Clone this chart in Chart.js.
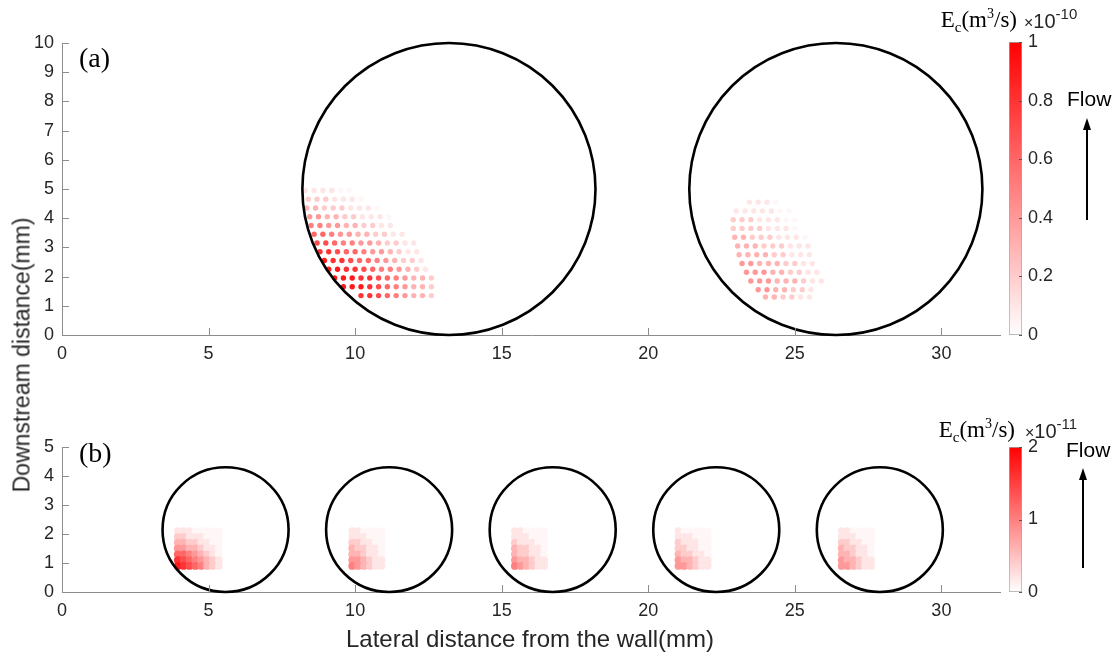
<!DOCTYPE html>
<html>
<head>
<meta charset="utf-8">
<script src="https://cdn.jsdelivr.net/npm/chart.js@4.4.1/dist/chart.umd.min.js"></script>
<style>
  body { margin: 0; background: #fff; }
  #page { position: relative; width: 1120px; height: 656px; overflow: hidden; font-family: "Liberation Sans", Arial, sans-serif; color: #262626; }
  canvas { position: absolute; }
  .txt { position: absolute; white-space: nowrap; }
  .serif { font-family: "Liberation Serif", "Times New Roman", serif; color: #000; }
  .shaft { position: absolute; width: 2px; background: #000; }
  .head { position: absolute; width: 0; height: 0; border-left: 4px solid transparent; border-right: 4px solid transparent; border-bottom: 12px solid #000; }
</style>
</head>
<body>
<div id="page">
  <canvas id="chartA" width="1010" height="372" style="left:0;top:0"></canvas>
  <canvas id="barA" width="70" height="372" style="left:990px;top:0"></canvas>
  <canvas id="chartB" width="1010" height="256" style="left:0;top:400px"></canvas>
  <canvas id="barB" width="70" height="256" style="left:990px;top:400px"></canvas>

  <div class="txt serif" style="left:79px;top:44px;font-size:28px;line-height:28px">(a)</div>
  <div class="txt serif" style="left:79px;top:439px;font-size:28px;line-height:28px">(b)</div>

  <div class="txt serif" style="right:103px;top:2px;font-size:23px;line-height:23px">E<sub style="font-size:15px">c</sub>(m<sup style="font-size:14px">3</sup>/s)</div>
  <div class="txt" style="left:1024px;top:11px;font-size:20px;line-height:20px"><span style="font-size:16px">&times;</span>10<span style="position:relative;top:-9px;font-size:15px">-10</span></div>
  <div class="txt" style="left:1067px;top:88px;font-size:21px;line-height:21px;color:#000">Flow</div>
  <div class="head" style="left:1083px;top:118px"></div>
  <div class="shaft" style="left:1086px;top:128px;height:92px"></div>

  <div class="txt serif" style="right:105px;top:412px;font-size:23px;line-height:23px">E<sub style="font-size:15px">c</sub>(m<sup style="font-size:14px">3</sup>/s)</div>
  <div class="txt" style="left:1025px;top:421px;font-size:20px;line-height:20px"><span style="font-size:16px">&times;</span>10<span style="position:relative;top:-9px;font-size:15px">-11</span></div>
  <div class="txt" style="left:1066px;top:439px;font-size:21px;line-height:21px;color:#000">Flow</div>
  <div class="head" style="left:1079px;top:468px"></div>
  <div class="shaft" style="left:1082px;top:478px;height:90px"></div>

  <div class="txt" style="left:22px;top:355px;font-size:23px;transform:translate(-50%,-50%) rotate(-90deg)">Downstream distance(mm)</div>
  <div class="txt" style="left:530px;top:639px;font-size:24px;transform:translate(-50%,-50%)">Lateral distance from the wall(mm)</div>
</div>

<script>
// panel (a): rows of dots, one digit per dot = Ec in tenths of 1e-10 m3/s
var dotStepA = 0.3;
var rowsY_a1 = [4.95, 4.65, 4.35, 4.05, 3.75, 3.45, 3.15, 2.85, 2.55, 2.25, 1.95, 1.65, 1.35];
var rowsX_a1 = [8.30, 8.40, 8.35, 8.45, 8.50, 8.60, 8.70, 8.80, 8.95, 9.10, 9.30, 9.60, 10.20];
var rowsE_a1 = ["111100", "2221110", "332221110", "4433221110", "5544332211", "66544332211",
                "776554432211", "887665443211", "988766543221", "998876554321", "999887654332",
                "99987654332", "887654332"];

var rowsY_a2 = [4.55, 4.25, 3.95, 3.65, 3.35, 3.05, 2.75, 2.45, 2.15, 1.85, 1.55, 1.30];
var rowsX_a2 = [23.45, 23.00, 22.90, 22.90, 22.95, 23.05, 23.10, 23.20, 23.35, 23.50, 23.75, 24.00];
var rowsE_a2 = ["1110", "1111100", "22211100", "22221110", "332221110", "333222111", "333322111",
                "443332211", "444332211", "444333211", "4433221", "332211"];

var ringX_a = [13.2, 26.4];
var ringY_a = [5, 5];
var ringR_a = [5, 5];

// panel (b): five small cylinders, patches in tenths of 2e-11 m3/s
var dotStepB = 0.2;
var rowsY_b = [2.1, 1.9, 1.7, 1.5, 1.3, 1.1, 0.9];
var patchX_b = [3.95, 9.90, 15.45, 21.03, 26.60];
var patchE_b = [
  ["11100000", "22111000", "33221100", "44332110", "66543210", "87654321", "98765321"],
  ["110000", "111000", "221100", "322110", "332110", "443211", "543211"],
  ["110000", "111000", "211100", "322110", "322110", "433211", "543211"],
  ["100000", "111000", "211100", "221100", "322110", "433211", "443211"],
  ["110000", "111000", "221100", "322110", "332110", "433211", "443211"]
];
var ringX_b = [5.58, 11.16, 16.74, 22.32, 27.90];
var ringY_b = [2.15, 2.15, 2.15, 2.15, 2.15];
var ringR_b = [2.15, 2.15, 2.15, 2.15, 2.15];

var cbMaxA = 1, cbStepA = 0.2;
var cbMaxB = 2, cbStepB = 1;

Chart.defaults.font.family = "'Liberation Sans', Arial, sans-serif";
Chart.defaults.font.size = 18;
Chart.defaults.color = '#262626';

function redShade(f)
{
    var c = Math.round(255 * (1 - Math.min(1, f)));
    return 'rgb(255,' + c + ',' + c + ')';
}

function addRows(out, ys, x0s, digits, step)
{
    for (var i = 0; i < ys.length; i++)
    {
        var s = digits[i];
        for (var k = 0; k < s.length; k++)
        {
            var d = Math.max(0.3, +s[k]);
            out.data.push({x: x0s[i] + k * step, y: ys[i]});
            out.colors.push(redShade(d / 10));
        }
    }
    return out;
}

var ringPlugin = {
    id: 'rings',
    afterDatasetsDraw: function(chart, args, opts) {
        var ctx = chart.ctx, x = chart.scales.x, y = chart.scales.y;
        ctx.save();
        ctx.lineWidth = 2.6;
        ctx.strokeStyle = '#000';
        for (var i = 0; i < opts.cx.length; i++)
        {
            var px = x.getPixelForValue(opts.cx[i]);
            var py = y.getPixelForValue(opts.cy[i]);
            var rx = x.getPixelForValue(opts.cx[i] + opts.r[i]) - px;
            var ry = py - y.getPixelForValue(opts.cy[i] + opts.r[i]);
            ctx.beginPath();
            ctx.ellipse(px, py, rx, ry, 0, 0, Math.PI * 2);
            ctx.stroke();
        }
        ctx.restore();
    }
};

// matlab style ticks pointing into the plot
var inTicks = {
    id: 'inTicks',
    afterDraw: function(chart) {
        var ctx = chart.ctx, a = chart.chartArea, x = chart.scales.x, y = chart.scales.y;
        ctx.save();
        ctx.strokeStyle = '#8c8c8c';
        ctx.lineWidth = 1;
        ctx.beginPath();
        x.ticks.forEach(function(t) {
            var p = Math.round(x.getPixelForValue(t.value)) + 0.5;
            ctx.moveTo(p, a.bottom); ctx.lineTo(p, a.bottom - 7);
        });
        y.ticks.forEach(function(t) {
            var p = Math.round(y.getPixelForValue(t.value)) + 0.5;
            ctx.moveTo(a.left, p); ctx.lineTo(a.left + 7, p);
        });
        ctx.stroke();
        ctx.restore();
    }
};

function makePanel(id, sets, ymax, rings, padTop, axisH)
{
    return new Chart(document.getElementById(id), {
        type: 'scatter',
        data: {
            datasets: sets.map(function(s) {
                return {
                    data: s.data,
                    backgroundColor: s.colors,
                    pointRadius: s.r,
                    pointBorderWidth: 0,
                    borderWidth: 0
                };
            })
        },
        options: {
            responsive: false,
            animation: false,
            events: [],
            layout: { padding: { top: padTop, right: 10, left: 0, bottom: 0 } },
            plugins: { legend: { display: false }, tooltip: { enabled: false }, rings: rings },
            scales: {
                x: {
                    type: 'linear', min: 0, max: 32,
                    ticks: { stepSize: 5, includeBounds: false, padding: 8, maxRotation: 0 },
                    grid: { display: false, drawTicks: false },
                    border: { color: '#8c8c8c', width: 1 },
                    afterFit: function(s) { s.height = axisH; }
                },
                y: {
                    type: 'linear', min: 0, max: ymax,
                    ticks: { stepSize: 1, includeBounds: false, padding: 8 },
                    grid: { display: false, drawTicks: false },
                    border: { color: '#8c8c8c', width: 1 },
                    afterFit: function(s) { s.width = 62; }
                }
            }
        },
        plugins: [ringPlugin, inTicks]
    });
}

function fillRed(c)
{
    var a = c.chart.chartArea;
    if (!a) return '#f00';
    var g = c.chart.ctx.createLinearGradient(0, a.bottom, 0, a.top);
    g.addColorStop(0, '#ffffff');
    g.addColorStop(1, '#ff0000');
    return g;
}

var barTicks = {
    id: 'barTicks',
    afterDraw: function(chart) {
        var ctx = chart.ctx, a = chart.chartArea, y = chart.scales.y;
        ctx.save();
        ctx.strokeStyle = '#555';
        ctx.lineWidth = 1;
        ctx.beginPath();
        y.ticks.forEach(function(t) {
            var p = Math.round(y.getPixelForValue(t.value)) + 0.5;
            ctx.moveTo(a.right, p); ctx.lineTo(a.right - 3, p);
        });
        ctx.stroke();
        ctx.restore();
    }
};

function makeBar(id, max, step, padTop, padBottom)
{
    return new Chart(document.getElementById(id), {
        type: 'bar',
        data: {
            labels: [''],
            datasets: [{
                data: [max],
                backgroundColor: fillRed,
                borderColor: '#a6a6a6',
                borderWidth: 1,
                borderSkipped: false,
                barPercentage: 1,
                categoryPercentage: 1
            }]
        },
        options: {
            responsive: false,
            animation: false,
            events: [],
            layout: { padding: { left: 19, top: padTop, bottom: padBottom, right: 0 } },
            plugins: { legend: { display: false }, tooltip: { enabled: false } },
            scales: {
                x: { display: false },
                y: {
                    position: 'right', min: 0, max: max,
                    ticks: { stepSize: step, padding: 6, callback: function(v) { return String(Math.round(v * 10) / 10); } },
                    grid: { display: false, drawTicks: false },
                    border: { display: false },
                    afterFit: function(s) { s.width = 38; }
                }
            }
        },
        plugins: [barTicks]
    });
}

var a1 = addRows({data: [], colors: [], r: 2.7}, rowsY_a1, rowsX_a1, rowsE_a1, dotStepA);
var a2 = addRows({data: [], colors: [], r: 2.7}, rowsY_a2, rowsX_a2, rowsE_a2, dotStepA);
makePanel('chartA', [a1, a2], 10, {cx: ringX_a, cy: ringY_a, r: ringR_a}, 43, 37);

var setsB = patchE_b.map(function(p, i) {
    var xs = rowsY_b.map(function() { return patchX_b[i]; });
    return addRows({data: [], colors: [], r: 3.9}, rowsY_b, xs, p, dotStepB);
});
makePanel('chartB', setsB, 5, {cx: ringX_b, cy: ringY_b, r: ringR_b}, 47, 64);

makeBar('barA', cbMaxA, cbStepA, 42, 37);
makeBar('barB', cbMaxB, cbStepB, 47, 64);
</script>
</body>
</html>
